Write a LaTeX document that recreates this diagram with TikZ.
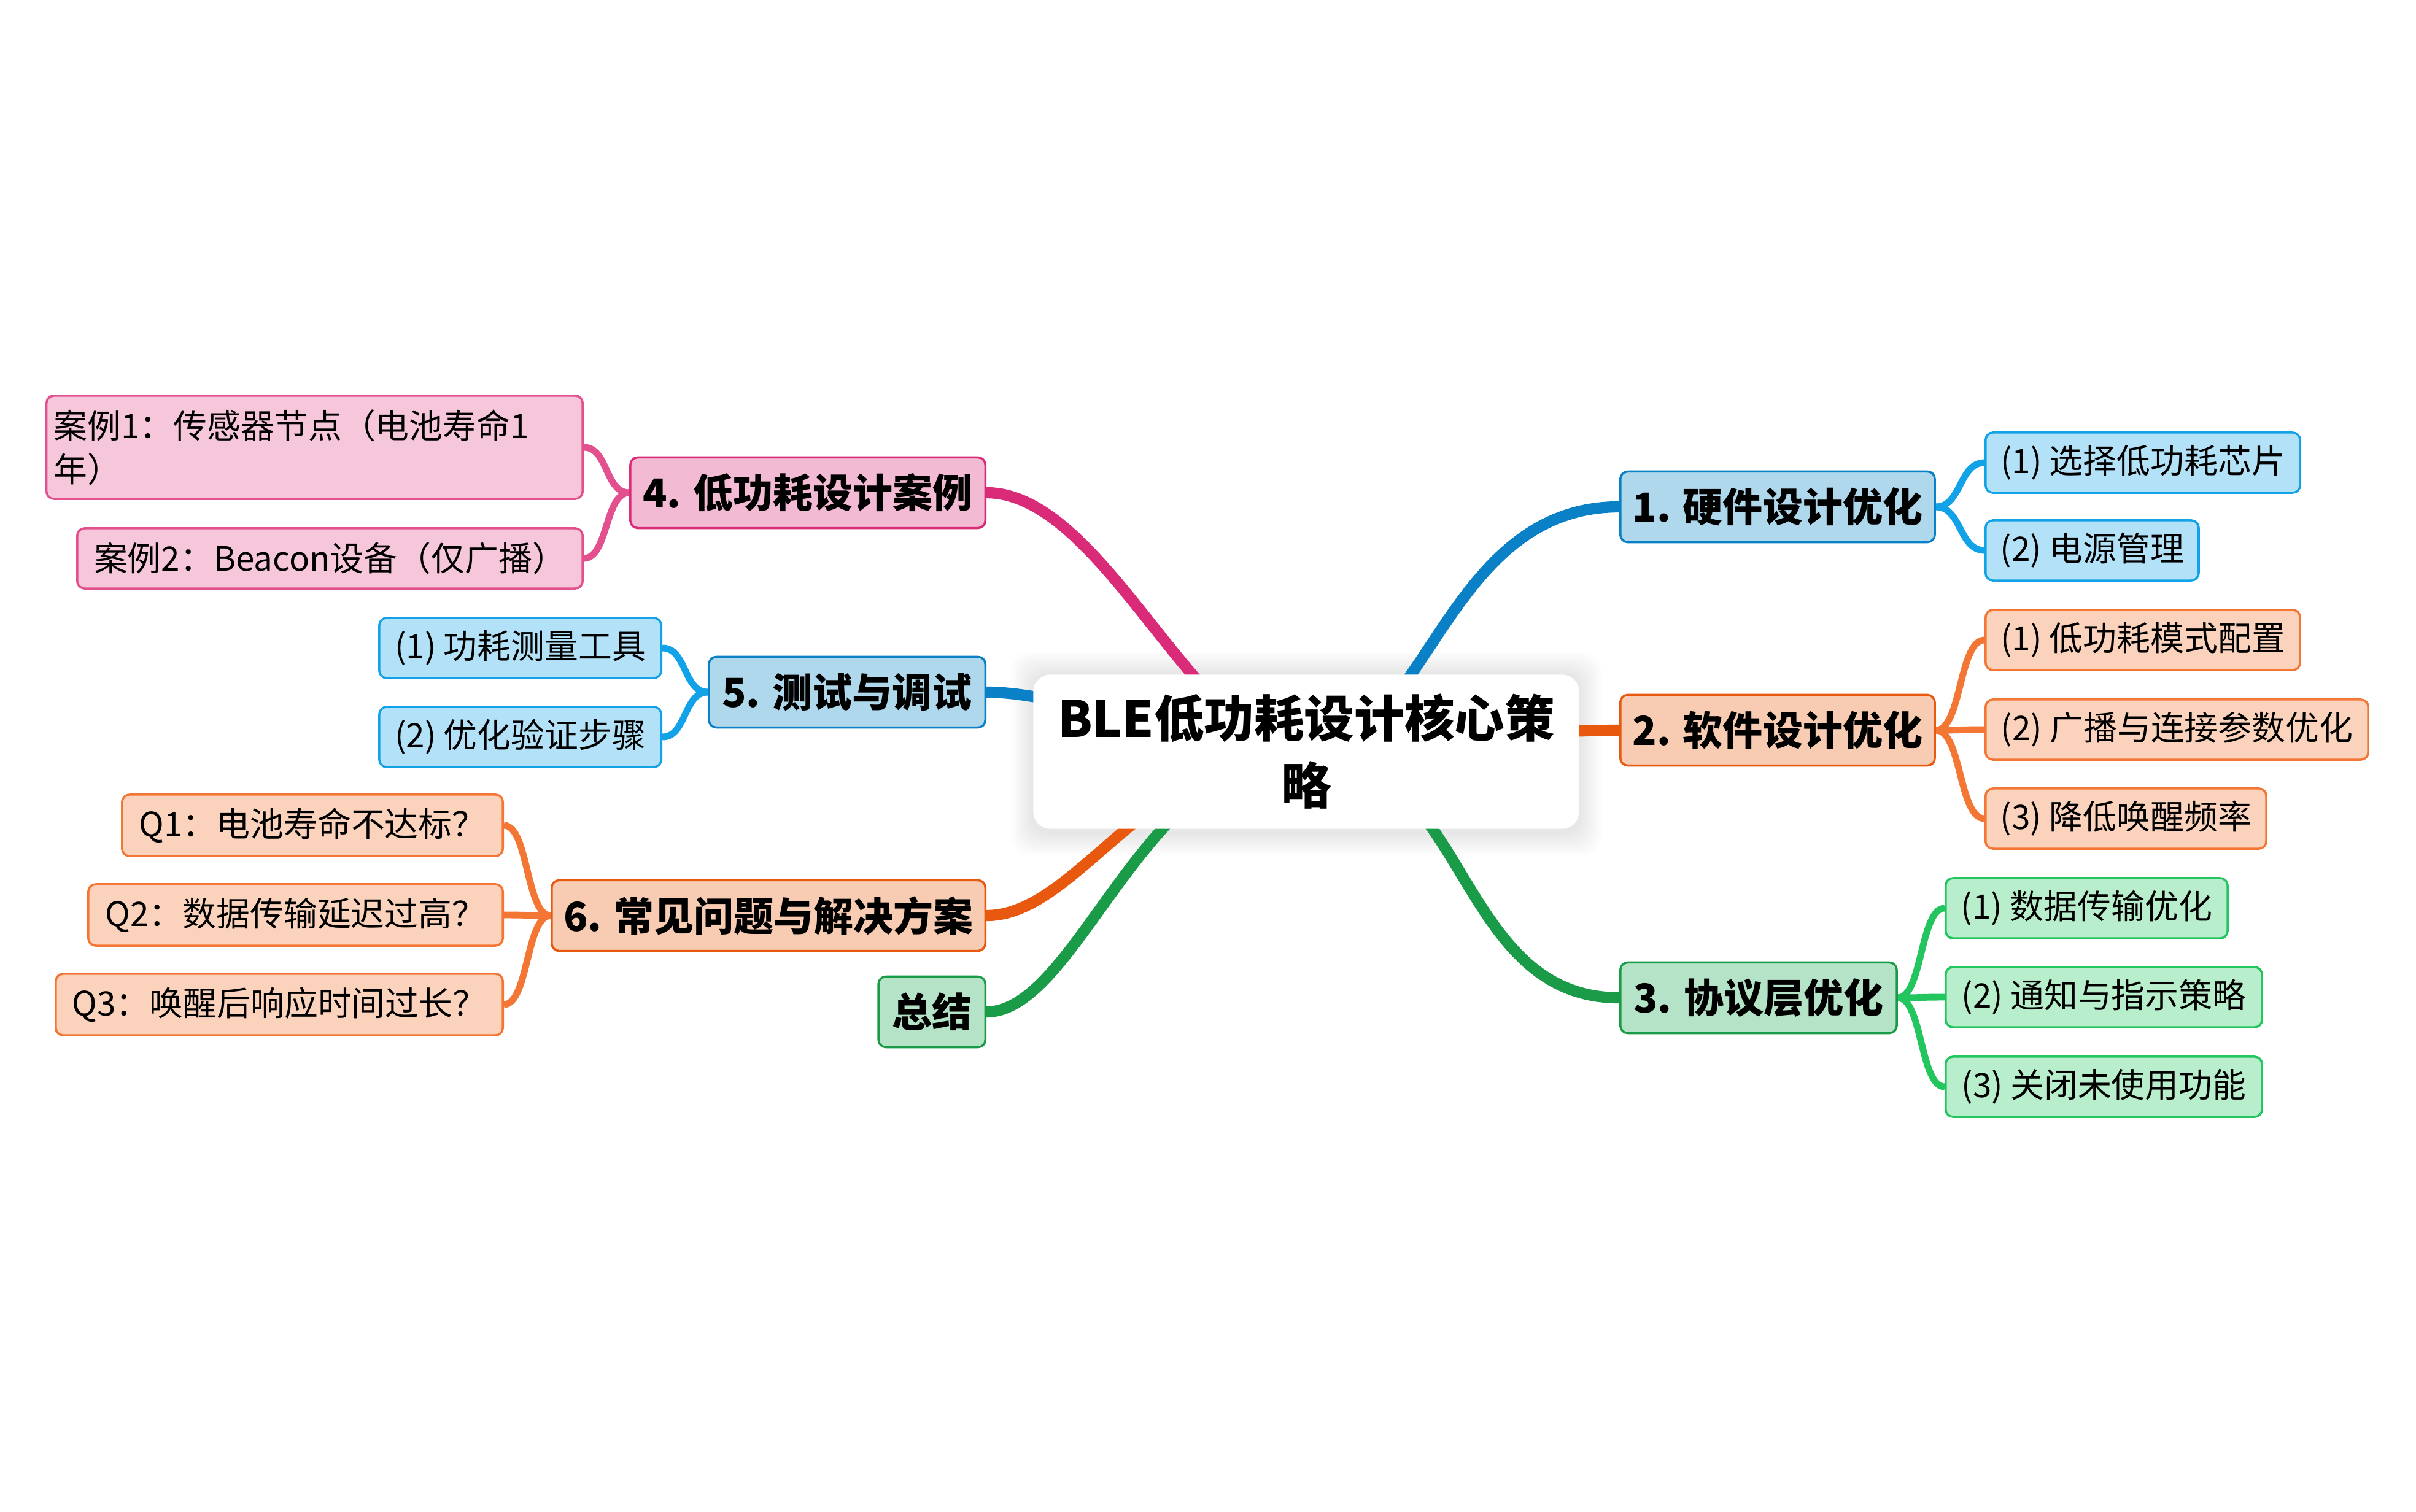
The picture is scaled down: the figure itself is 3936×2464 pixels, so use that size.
\documentclass[tikz,border=0pt]{standalone}
\usepackage{fontspec}
\setmainfont{Noto Sans CJK SC}
\usetikzlibrary{backgrounds,calc}
\definecolor{bM}{HTML}{0A80C6}
\definecolor{bMf}{HTML}{B0D8EC}
\definecolor{bS}{HTML}{12A2E8}
\definecolor{bSf}{HTML}{B3E2F8}
\definecolor{oM}{HTML}{E8580F}
\definecolor{oMf}{HTML}{F8CCB2}
\definecolor{oS}{HTML}{F47634}
\definecolor{oSf}{HTML}{FBD3BD}
\definecolor{gM}{HTML}{1A9B48}
\definecolor{gMf}{HTML}{B5E3C7}
\definecolor{gS}{HTML}{22C55E}
\definecolor{gSf}{HTML}{B9EECD}
\definecolor{pM}{HTML}{D92B78}
\definecolor{pMf}{HTML}{F3BAD3}
\definecolor{pS}{HTML}{E2508E}
\definecolor{pSf}{HTML}{F6C6DA}
\tikzset{
  basebox/.style={rectangle, rounded corners=0.12cm, line width=1pt, text=black, inner xsep=0.12cm, inner ysep=0pt, align=center},
  mainbox/.style={basebox, minimum height=1.15cm, font=\fontsize{18.5}{22}\selectfont\bfseries},
  subbox/.style={basebox, minimum height=0.98cm, font=\fontsize{15.6}{20}\selectfont},
  blueM/.style={fill=bMf, draw=bM}, blueS/.style={fill=bSf, draw=bS},
  orangeM/.style={fill=oMf, draw=oM}, orangeS/.style={fill=oSf, draw=oS},
  greenM/.style={fill=gMf, draw=gM}, greenS/.style={fill=gSf, draw=gS},
  pinkM/.style={fill=pMf, draw=pM}, pinkS/.style={fill=pSf, draw=pS},
  mainline/.style={line width=5.2pt, line cap=round},
  subline/.style={line width=3.1pt},
}
\begin{document}
\begin{tikzpicture}[x=0.01cm, y=-0.01cm]
\useasboundingbox (0,0) rectangle (3936,2464);

% central node
\node[rectangle, rounded corners=0.28cm, fill=white, minimum width=8.89cm, minimum height=2.51cm, align=center,
      font=\fontsize{23.2}{31}\selectfont\bfseries] (c) at (2128,1225) {BLE低功耗设计核心策\\略};

% right side main nodes
\node[mainbox, blueM, minimum width=5.12cm, anchor=west] (n1) at (2638,826) {1. 硬件设计优化};
\node[mainbox, orangeM, minimum width=5.12cm, anchor=west] (n2) at (2638,1190) {2. 软件设计优化};
\node[mainbox, greenM, minimum width=4.50cm, anchor=west] (n3) at (2638,1626) {3. 协议层优化};
% left side main nodes
\node[mainbox, pinkM, minimum width=5.78cm, anchor=east] (n4) at (1607,803) {4. 低功耗设计案例};
\node[mainbox, blueM, minimum width=4.50cm, anchor=east] (n5) at (1607,1128) {5. 测试与调试};
\node[mainbox, orangeM, minimum width=7.06cm, anchor=east] (n6) at (1607,1492) {6. 常见问题与解决方案};
\node[mainbox, greenM, minimum width=1.74cm, anchor=east] (s) at (1607,1649) {总结};

% children of 1
\node[subbox, blueS, minimum width=5.12cm, anchor=west] (n11) at (3233,754) {(1) 选择低功耗芯片};
\node[subbox, blueS, minimum width=3.47cm, anchor=west] (n12) at (3233,897) {(2) 电源管理};
% children of 2
\node[subbox, orangeS, minimum width=5.12cm, anchor=west] (n21) at (3233,1043) {(1) 低功耗模式配置};
\node[subbox, orangeS, minimum width=6.23cm, anchor=west] (n22) at (3233,1189) {(2) 广播与连接参数优化};
\node[subbox, orangeS, minimum width=4.57cm, anchor=west] (n23) at (3233,1334) {(3) 降低唤醒频率};
% children of 3
\node[subbox, greenS, minimum width=4.59cm, anchor=west] (n31) at (3168,1480) {(1) 数据传输优化};
\node[subbox, greenS, minimum width=5.15cm, anchor=west] (n32) at (3168,1625) {(2) 通知与指示策略};
\node[subbox, greenS, minimum width=5.15cm, anchor=west] (n33) at (3168,1771) {(3) 关闭未使用功能};
% children of 4
\node[subbox, pinkS, text width=8.49cm, align=left, minimum height=1.68cm, anchor=east,
      font=\fontsize{15.6}{20}\selectfont] (n41) at (951,729) {案例1：传感器节点（电池寿命1\\年）};
\node[subbox, pinkS, minimum width=8.23cm, anchor=east] (n42) at (951,910) {案例2：Beacon设备（仅广播）};
% children of 5
\node[subbox, blueS, minimum width=4.59cm, anchor=east] (n51) at (1079,1056) {(1) 功耗测量工具};
\node[subbox, blueS, minimum width=4.59cm, anchor=east] (n52) at (1079,1201) {(2) 优化验证步骤};
% children of 6
\node[subbox, orangeS, minimum width=6.20cm, minimum height=1.0cm, anchor=east] (n61) at (821,1345) {Q1：电池寿命不达标？};
\node[subbox, orangeS, minimum width=6.75cm, minimum height=1.0cm, anchor=east] (n62) at (821,1491) {Q2：数据传输延迟过高？};
\node[subbox, orangeS, minimum width=7.28cm, minimum height=1.0cm, anchor=east] (n63) at (821,1637) {Q3：唤醒后响应时间过长？};

\begin{scope}[on background layer]
  \fill[white] (0,0) rectangle (3936,2464);
  % soft shadow of the central node
  \foreach \s in {3,6,...,36} {
    \fill[black, opacity=0.007, rounded corners=0.3cm]
      ($(c.north west)+(-\s,-\s)$) rectangle ($(c.south east)+(\s,\s+6)$);
  }
  % main connectors
  \draw[mainline, bM] (c.center) .. controls +(195,0) and +(-288,0) .. (n1.west);
  \draw[mainline, oM] (c.center) .. controls +(172,0) and +(-188,0) .. (n2.west);
  \draw[mainline, gM] (c.center) .. controls +(265,0) and +(-270,0) .. (n3.west);
  \draw[mainline, pM] (n4.east) .. controls +(193,0) and +(-178,0) .. (c.center);
  \draw[mainline, bM] (n5.east) .. controls +(143,0) and +(-178,0) .. (c.center);
  \draw[mainline, oM] (n6.east) .. controls +(150,0) and +(-260,0) .. (c.center);
  \draw[mainline, gM] (s.east) .. controls +(150,0) and +(-265,0) .. (c.center);
  % sub connectors
  \foreach \ch in {n11,n12} \draw[subline, bS] (n1.east) .. controls +(42,0) and +(-42,0) .. (\ch.west);
  \foreach \ch in {n21,n22,n23} \draw[subline, oS] (n2.east) .. controls +(42,0) and +(-42,0) .. (\ch.west);
  \foreach \ch in {n31,n32,n33} \draw[subline, gS] (n3.east) .. controls +(40,0) and +(-40,0) .. (\ch.west);
  \foreach \ch in {n41,n42} \draw[subline, pS] (n4.west) .. controls +(-40,0) and +(40,0) .. (\ch.east);
  \foreach \ch in {n51,n52} \draw[subline, bS] (n5.west) .. controls +(-40,0) and +(40,0) .. (\ch.east);
  \foreach \ch in {n61,n62,n63} \draw[subline, oS] (n6.west) .. controls +(-40,0) and +(40,0) .. (\ch.east);
\end{scope}
\end{tikzpicture}
\end{document}
